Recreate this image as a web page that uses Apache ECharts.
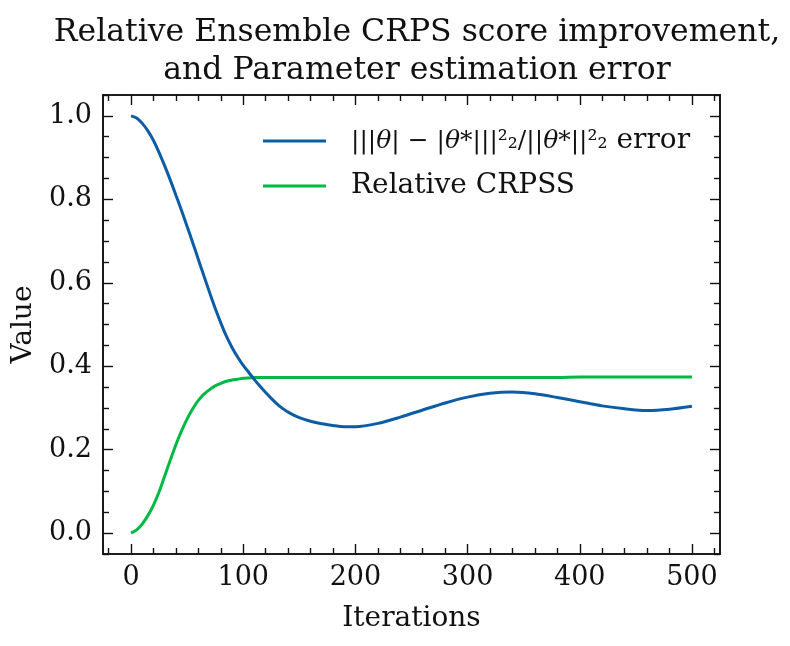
<!DOCTYPE html>
<html>
<head>
<meta charset="utf-8">
<script src="https://cdn.jsdelivr.net/npm/echarts@6/dist/echarts.min.js"></script>
<style>
  html, body { margin: 0; padding: 0; background: #fff; }
  #chart { width: 790px; height: 646px; }
</style>
</head>
<body>
<div id="chart"></div>
<script>
// Values.
const iterations = [
    0, 5, 10, 15, 20, 25, 30, 35, 40, 45, 50, 55, 60, 65, 70, 75, 80, 85, 90, 95,
    100, 105, 110, 115, 120, 125, 130, 135, 140, 145, 150,
    160, 170, 180, 190, 200,
    220, 240, 260, 280, 300, 320, 340, 360, 380, 400, 420, 440, 460, 480, 500];
const errorValues = [
    1.000, 0.995, 0.982, 0.964, 0.941, 0.912, 0.880, 0.846, 0.810, 0.773, 0.735, 0.696, 0.656, 0.616, 0.577, 0.539, 0.504, 0.472, 0.445, 0.422,
    0.402, 0.385, 0.368, 0.352, 0.337, 0.323, 0.310, 0.299, 0.290, 0.283, 0.277,
    0.268, 0.262, 0.258, 0.255, 0.255,
    0.263, 0.278, 0.295, 0.312, 0.326, 0.335, 0.338, 0.334, 0.325, 0.315, 0.305, 0.298, 0.294, 0.297, 0.304];
const crpssValues = [
    0.000, 0.008, 0.022, 0.042, 0.067, 0.099, 0.137, 0.175, 0.212, 0.245, 0.274, 0.298, 0.318, 0.333, 0.344, 0.353, 0.359, 0.364, 0.367, 0.369,
    0.371, 0.372, 0.373, 0.373, 0.373, 0.373, 0.373, 0.373, 0.373, 0.373, 0.373,
    0.373, 0.373, 0.373, 0.373, 0.373,
    0.373, 0.373, 0.373, 0.373, 0.373, 0.373, 0.373, 0.373, 0.373, 0.374, 0.374, 0.374, 0.374, 0.374, 0.374];

const xMajorTicks = [0, 100, 200, 300, 400, 500];
const xMinorTicks = [-20, 20, 40, 60, 80, 120, 140, 160, 180, 220, 240, 260, 280, 320, 340, 360, 380, 420, 440, 460, 480, 520];
const yMajorTicks = [0.0, 0.2, 0.4, 0.6, 0.8, 1.0];
const yMinorTicks = [-0.05, 0.05, 0.1, 0.15, 0.25, 0.3, 0.35, 0.45, 0.5, 0.55, 0.65, 0.7, 0.75, 0.85, 0.9, 0.95, 1.05];

const titleText = 'Relative Ensemble CRPS score improvement,\nand Parameter estimation error';
const errorName = 'error';
const crpssName = 'Relative CRPSS';

const FONT = '"DejaVu Serif", "Liberation Serif", serif';
const INK = '#111';

const toPairs = (xs, ys) => xs.map((x, i) => [x, ys[i]]);

// Builds one of the stacked axes; the frame is four axes with inward ticks.
const makeAxis = (kind, position, range, ticks, tickLength, labels) => ({
    type: 'value',
    position: position,
    min: range[0],
    max: range[1],
    axisLine: {show: true, onZero: false, lineStyle: {color: INK, width: 1.6}},
    axisTick: {
        show: true, inside: true, length: tickLength, customValues: ticks,
        lineStyle: {color: INK, width: 1.4}
    },
    axisLabel: labels ? {
        show: true, customValues: labels, margin: kind === 'x' ? 10 : 11,
        fontFamily: FONT, fontSize: 27, color: INK,
        formatter: (v) => kind === 'x' ? String(v) : v.toFixed(1)
    } : {show: false},
    splitLine: {show: false},
});

const xRange = [-25, 525];
const yRange = [-0.05, 1.05];

const chart = echarts.init(document.getElementById('chart'), null, {renderer: 'canvas'});

chart.setOption({
    animation: false,
    backgroundColor: '#fff',
    title: {
        text: titleText,
        left: 412,
        top: 9,
        textAlign: 'center',
        textStyle: {fontFamily: FONT, fontSize: 31.5, fontWeight: 'normal', color: INK, lineHeight: 38},
    },
    grid: {left: 103, right: 70, top: 95, bottom: 92, containLabel: false},
    legend: {
        data: [errorName, crpssName],
        orient: 'vertical',
        left: 258,
        top: 121,
        itemWidth: 63,
        itemHeight: 3,
        itemGap: 15,
        icon: 'rect',
        textStyle: {
            fontFamily: FONT, fontSize: 28, color: INK, padding: [0, 0, 0, 20], lineHeight: 30,
            rich: {
                i: {fontFamily: FONT, fontSize: 25, fontStyle: 'italic', color: INK, lineHeight: 30},
                m: {fontFamily: FONT, fontSize: 25, color: INK, lineHeight: 30},
                n: {fontFamily: FONT, fontSize: 28, color: INK, lineHeight: 30},
            }
        },
        formatter: (name) => name === errorName
            ? '{m||||}{i|θ}{m|| − |}{i|θ}{m|*|||²₂/||}{i|θ}{m|*||²₂}{n| error}'
            : name,
    },
    xAxis: [
        Object.assign(makeAxis('x', 'bottom', xRange, xMajorTicks, 10, xMajorTicks), {
            name: 'Iterations', nameLocation: 'middle', nameGap: 51,
            nameTextStyle: {fontFamily: FONT, fontSize: 28, color: INK},
        }),
        makeAxis('x', 'bottom', xRange, xMinorTicks, 6, null),
        makeAxis('x', 'top', xRange, xMajorTicks, 10, null),
        makeAxis('x', 'top', xRange, xMinorTicks, 6, null),
    ],
    yAxis: [
        Object.assign(makeAxis('y', 'left', yRange, yMajorTicks, 10, yMajorTicks), {
            name: 'Value', nameLocation: 'middle', nameGap: 62,
            nameTextStyle: {fontFamily: FONT, fontSize: 28, color: INK},
        }),
        makeAxis('y', 'left', yRange, yMinorTicks, 6, null),
        makeAxis('y', 'right', yRange, yMajorTicks, 10, null),
        makeAxis('y', 'right', yRange, yMinorTicks, 6, null),
    ],
    series: [
        {
            name: errorName,
            type: 'line',
            data: toPairs(iterations, errorValues),
            smooth: 0.3,
            showSymbol: false,
            lineStyle: {color: '#0C5DA5', width: 3},
            itemStyle: {color: '#0C5DA5'},
            z: 3,
        },
        {
            name: crpssName,
            type: 'line',
            data: toPairs(iterations, crpssValues),
            smooth: 0.3,
            showSymbol: false,
            lineStyle: {color: '#00B945', width: 3},
            itemStyle: {color: '#00B945'},
            z: 2,
        },
    ],
});
</script>
</body>
</html>
